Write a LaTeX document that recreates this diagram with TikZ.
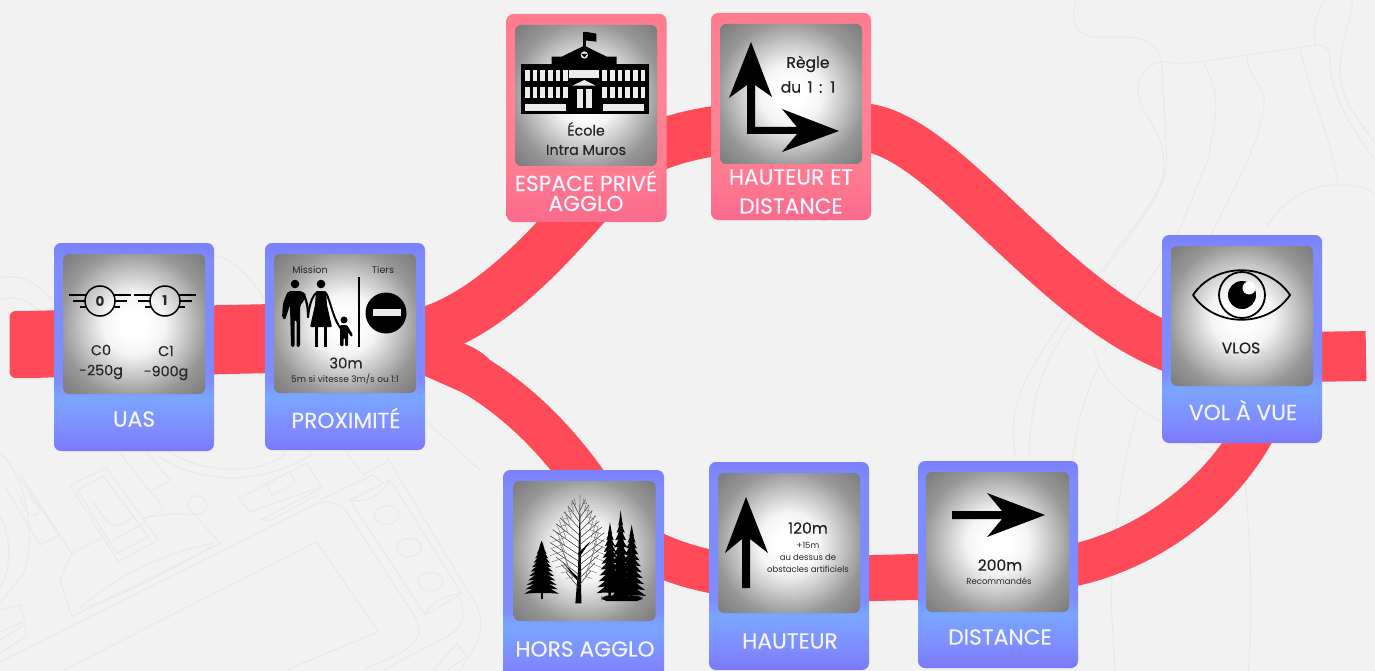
\documentclass[tikz,border=0pt]{standalone}
\usepackage{fontspec}
\setmainfont{Poppins}
\newfontfamily\medf{Poppins}[FakeBold=0.3]
\definecolor{bgc}{HTML}{F2F2F2}
\definecolor{sketch}{HTML}{E9E9E9}
\definecolor{ribbon}{HTML}{FF4B59}
\definecolor{bA}{HTML}{7B78FA}
\definecolor{bB}{HTML}{7AA6FF}
\definecolor{bC}{HTML}{7F8CFF}
\definecolor{bD}{HTML}{7A80FA}
\definecolor{pA}{HTML}{FA6A8C}
\definecolor{pB}{HTML}{FF7C90}
\definecolor{pC}{HTML}{FF8496}
\definecolor{pD}{HTML}{FF7C8E}
\definecolor{gA}{HTML}{F4F4F4}
\definecolor{gB}{HTML}{BDBDBD}
\definecolor{gC}{HTML}{979797}
\definecolor{gD}{HTML}{7A7A7A}
\pgfdeclareverticalshading{cardblue}{100bp}{color(0bp)=(bA); color(25bp)=(bA); color(30bp)=(bC); color(38bp)=(bB); color(42bp)=(bC); color(70bp)=(bC); color(75bp)=(bD); color(100bp)=(bD)}
\pgfdeclareverticalshading{cardpink}{100bp}{color(0bp)=(pA); color(25bp)=(pA); color(37bp)=(pB); color(55bp)=(pC); color(75bp)=(pD); color(100bp)=(pD)}
\pgfdeclareradialshading{photo}{\pgfpointorigin}{color(0bp)=(white); color(5bp)=(white); color(11bp)=(gA); color(20bp)=(gB); color(26bp)=(gC); color(35.5bp)=(gD); color(50bp)=(gD)}
\pgfdeclarelayer{backdrop}
\pgfsetlayers{backdrop,main}
\tikzset{
  cardbase/.style={rounded corners=7pt,minimum width=160pt,minimum height=207pt,inner sep=0pt,draw=none},
  bluecard/.style={cardbase,shading=cardblue},
  pinkcard/.style={cardbase,shading=cardpink},
  photobox/.style={rounded corners=6pt,minimum width=142pt,minimum height=140pt,inner sep=0pt,shading=photo},
  ribbonline/.style={draw=ribbon,line cap=butt},
  bgline/.style={draw=sketch,line width=1pt,line join=round},
  cardlabel/.style={text=white!96!blue,font=\medf\fontsize{21.8}{24}\selectfont,inner sep=0pt},
  mid/.style={text=black!85,font=\medf\fontsize{14.3}{16}\selectfont,inner sep=0pt},
  heavy/.style={text=black!88,font=\medf\fontsize{15.5}{17}\selectfont,inner sep=0pt},
  small/.style={text=black!85,font=\fontsize{8.5}{10}\selectfont,inner sep=0pt},
  tiny/.style={text=black!85,font=\fontsize{9}{10}\selectfont,inner sep=0pt},
  wht/.style={fill=white!92!black,draw=none},
}
\newcommand{\wingbadge}[4]{%
  \begin{scope}[shift={(#1,#2)}]
    \draw[black,line width=1.7pt] (-31,-6)--(-14,-6) (-27,0)--(-15,0) (-20,6)--(-13,6)
      (31,-6)--(14,-6) (27,0)--(15,0) (20,6)--(13,6);
    \node[draw=black,line width=1.5pt,circle,minimum size=30pt,inner sep=0pt,text=black!85,font=\bfseries\fontsize{13.5}{14}\selectfont] (#3) at (0,0) {#4};
  \end{scope}}
\newcommand{\conifer}[4]{% x, top, base, halfwidth (zoom units)
  \foreach \i in {0,...,10}{
    \pgfmathsetmacro{\ya}{#2+(#3-#2)*(\i-1)/10}
    \pgfmathsetmacro{\yb}{#2+(#3-#2)*(\i+1)/10}
    \pgfmathsetmacro{\hw}{#4*pow((\i+1)/11,0.75)}
    \fill[black] (#1,\ya) -- (#1+.55*\hw,\yb-14) -- (#1+\hw,\yb) -- (#1+0.5*\hw,\yb-2) -- (#1-0.5*\hw,\yb-2) -- (#1-\hw,\yb) -- (#1-.55*\hw,\yb-14) -- cycle;
  }}
\begin{document}
\begin{tikzpicture}[x=1pt,y=-1pt]
\useasboundingbox (0,0) rectangle (1375,671);
% cards
\node[bluecard,minimum height=208pt] (uas) at (134,347) {};
\node[bluecard] (prox) at (345,346.5) {};
\node[pinkcard,minimum height=208pt] (espace) at (586.5,118) {};
\node[pinkcard] (hetd) at (791,116.5) {};
\node[bluecard,minimum height=210pt,minimum width=161pt] (hors) at (583.5,575) {};
\node[bluecard,minimum height=208pt] (haut) at (789,566) {};
\node[bluecard] (dist) at (998,564.5) {};
\node[bluecard,minimum height=208pt] (vol) at (1242,339) {};
% ribbon anchors
\coordinate (rstart) at (30,344.5);
\coordinate (uasMid) at (134,341.5);
\coordinate (proxMid) at (345,337);
\coordinate (proxTop) at (345,342);
\coordinate (proxLow) at (345,335);
\coordinate (rend) at (1366,356);
\coordinate (volMid) at (1242,358);
\coordinate (espaceIn) at (610,178);
\coordinate (espaceOut) at (600,175);
\coordinate (horsIn) at (625,545);
\coordinate (horsOut) at (620,532);
\coordinate (volIn) at (1190,355);
\coordinate (volDown) at (1265,410);
\coordinate (distOut) at (1040,570);
\coordinate (hetdOut) at (860,127);
\coordinate (hetdIn) at (745,128);
\coordinate (hautMid) at (790,580);
\coordinate (distMid) at (1000,575);
\begin{pgfonlayer}{backdrop}
\fill[bgc] (0,0) rectangle (1375,671);
% faint background sketch, lower left
\begin{scope}[shift={(0,440)},scale=.33333]
  \draw[bgline] (190,690)--(950,305)--(1135,575)--(860,690);
  \draw[bgline] (0,665)--(940,195) .. controls (990,175) and (1020,190) .. (1040,215)--(1245,530) .. controls (1270,580) and (1260,600) .. (1200,640)--(1090,690);
  \draw[bgline] (1050,180)--(1170,120)--(1385,460)--(1275,525)--cycle;
  \draw[bgline] (1050,180) .. controls (1100,190) and (1150,160) .. (1170,120);
  \draw[bgline] (1385,460) .. controls (1320,470) and (1290,490) .. (1275,525);
  \draw[bgline] (1160,225) ellipse (37 and 28) (1227,322) ellipse (37 and 28) (1292,425) ellipse (37 and 28);
  \draw[bgline] (1160,50)--(1420,480) .. controls (1460,550) and (1450,590) .. (1380,690);
  \draw[bgline] (1380,470) .. controls (1400,540) and (1390,560) .. (1340,590)--(1150,690);
  \draw[bgline] (715,175)--(920,70)--(965,140)--(750,215)--cycle;
  \draw[bgline] (800,130)--(870,95)--(885,130)--(815,165)--cycle;
  \draw[bgline] (780,240)--(965,145) (780,240)--(815,240)--(960,160);
  \draw[bgline] (958,180)--(1120,105)--(1150,130);
  \draw[bgline] (210,135)--(320,85)--(475,300)--(355,365)--cycle;
  \draw[bgline] (232,150)--(310,108)--(445,290)--(350,340)--cycle;
  \draw[bgline] (340,300)--(440,245);
  \draw[bgline] (280,185) .. controls (330,270) and (350,270) .. (400,230);
  \draw[bgline] (180,420)--(215,530)--(660,310)--(585,225) .. controls (520,220) and (470,225) .. (430,235);
  \draw[bgline] (592,195) circle (28);
  \draw[bgline] (180,420)--(215,340)--(305,295);
  \draw[bgline] (240,505) .. controls (330,420) and (480,340) .. (640,310);
  \draw[bgline] (260,500) .. controls (360,470) and (520,390) .. (640,315);
  \draw[bgline] (15,140)--(120,315)--(178,285)--(60,115);
  \draw[bgline] (60,170) .. controls (80,240) and (120,240) .. (115,200) -- (85,165);
  \draw[bgline] (60,100)--(215,340);
  \draw[bgline] (480,50) .. controls (560,110) and (750,160) .. (940,40);
  \draw[bgline] (500,30) .. controls (600,100) and (770,110) .. (860,40);
  \draw[bgline] (360,40)--(450,155)--(510,120)--(420,10);
  \draw[bgline] (450,155)--(490,200) .. controls (480,220) and (450,230) .. (430,235);
  \draw[bgline] (0,40) .. controls (80,100) and (110,300) .. (70,400) -- (0,490);
  \draw[bgline] (0,230) .. controls (40,300) and (30,400) .. (0,440);
  \draw[bgline] (0,510)--(60,495)--(75,545)--(0,575) (0,600)--(75,555)--(78,590)--(0,640);
  \draw[bgline] (1040,40)--(1090,105)--(1160,65);
  \draw[bgline] (1300,690)--(1370,610)--(1400,650)--(1340,690);
\end{scope}
\draw[bgline] (0,278) .. controls (20,272) and (40,285) .. (52,300);
\draw[bgline] (0,300) .. controls (15,295) and (30,300) .. (40,312);
\draw[bgline] (215,255) .. controls (240,262) and (255,285) .. (265,300);
\draw[bgline] (425,420) -- (480,470);
% faint background sketch, upper right
\begin{scope}[shift={(1000,0)},scale=.33333]
  \draw[bgline] (230,0) .. controls (205,60) and (230,110) .. (290,112)--(395,112) .. controls (450,115) and (480,150) .. (485,185);
  \draw[bgline] (485,185) .. controls (530,192) and (570,190) .. (620,183)--(945,135) .. controls (975,132) and (990,150) .. (990,170);
  \draw[bgline] (485,185)--(500,480) .. controls (500,560) and (440,640) .. (310,816);
  \draw[bgline] (485,185) .. controls (430,195) and (410,240) .. (415,285) .. controls (425,350) and (490,380) .. (492,500) .. controls (492,570) and (430,640) .. (300,816);
  \draw[bgline] (615,185) .. controls (620,230) and (645,240) .. (647,300) .. controls (650,370) and (630,420) .. (628,470) -- (530,710);
  \draw[bgline] (740,165) .. controls (745,240) and (795,260) .. (793,310) .. controls (780,430) and (710,550) .. (630,710);
  \draw[bgline] (900,145) .. controls (920,250) and (990,400) .. (1015,555);
  \draw[bgline] (800,680) .. controls (850,600) and (920,555) .. (1015,555) .. controls (1060,553) and (1100,565) .. (1125,580);
  \draw[bgline] (975,0) .. controls (950,30) and (940,90) .. (945,135);
  \draw[bgline] (1058,0) .. controls (1050,80) and (1010,160) .. (1022,240) .. controls (1030,310) and (1090,380) .. (1125,430);
  \draw[bgline] (990,170) .. controls (985,270) and (1050,380) .. (1125,480);
\end{scope}
% faint background sketch, right side
\begin{scope}[shift={(1060,440)},scale=.33333]
  \draw[bgline] (45,0) .. controls (30,60) and (40,120) .. (45,180);
  \draw[bgline] (210,0) .. controls (170,170) and (150,420) .. (155,520) -- (165,693);
  \draw[bgline] (555,120) .. controls (570,300) and (580,480) .. (565,693);
  \draw[bgline] (390,10) -- (470,40);
\end{scope}
\draw[bgline] (1016,457) .. controls (1005,400) and (1030,370) .. (1068,312);
\draw[bgline] (1029,457) .. controls (1030,390) and (1050,350) .. (1075,318);
\draw[bgline] (1094,347) .. controls (1098,380) and (1130,405) .. (1166,425);
\draw[bgline] (1100,363) .. controls (1085,395) and (1074,430) .. (1075,457);
\draw[bgline] (1137,410) -- (1130,440);
\draw[bgline] (1133,303) -- (1163,260);
% ribbons
\draw[ribbonline,line width=67pt] (rstart) -- (uasMid);
\fill[ribbon,rounded corners=6pt] (9.5,311) rectangle (45,378);
\draw[ribbonline,line width=69pt] (uasMid) -- (proxMid);
\draw[ribbonline,line width=50pt] (proxTop) .. controls (460,350) and (525,275) .. (espaceIn);
\draw[ribbonline,line width=50pt] (espaceOut) .. controls (640,150) and (680,132) .. (hetdIn);
\draw[ribbonline,line width=48pt] (hetdOut) .. controls (945,130) and (1055,315) .. (volIn);
\draw[ribbonline,line width=50pt] (volMid) -- (rend);
\draw[ribbonline,line width=42pt] (proxLow) .. controls (440,340) and (545,395) .. (horsIn);
\draw[ribbonline,line width=43pt] (horsOut) .. controls (655,560) and (710,578) .. (hautMid);
\draw[ribbonline,line width=46pt] (hautMid) -- (distMid);
\draw[ribbonline,line width=42pt] (distOut) .. controls (1120,565) and (1220,510) .. (volDown);
\fill[ribbon] (410,306) -- (424,306) .. controls (440,306) and (455,302) .. (470,290) -- (480,320) -- (462,343) .. controls (472,346) and (482,352) .. (490,360) -- (470,396) -- (425,376) -- (410,376) -- cycle;
\end{pgfonlayer}
% pictures
\node[photobox] (uasP) at (134,324) {};
\node[photobox,minimum height=139pt] (proxP) at (345,323.5) {};
\node[photobox,minimum height=141pt] (espaceP) at (586,95.5) {};
\node[photobox] (hetdP) at (791,94) {};
\node[photobox] (horsP) at (584.5,551) {};
\node[photobox] (hautP) at (789,543) {};
\node[photobox,minimum width=143pt] (distP) at (997.5,542) {};
\node[photobox] (volP) at (1242,316) {};
% card labels
\node[cardlabel] (l1) at (134,419) {UAS};
\node[cardlabel] (l2) at (346,418) {PROXIMITÉ};
\node[cardlabel] (l3) at (586,181) {ESPACE PRIVÉ};
\node[cardlabel] (l3b) at (586,203.5) {AGGLO};
\node[cardlabel] (l4) at (791,177) {HAUTEUR ET};
\node[cardlabel] (l4b) at (791,206) {DISTANCE};
\node[cardlabel] (l5) at (585,649) {HORS AGGLO};
\node[cardlabel] (l6) at (790,641) {HAUTEUR};
\node[cardlabel] (l7) at (1000,637) {DISTANCE};
\node[cardlabel] (l8) at (1243,410) {VOL À VUE};
% UAS content
\wingbadge{100}{301}{b0}{0}
\wingbadge{165}{301}{b1}{1}
\node[mid] (t1) at (101,350) {C0};
\node[mid] (t2) at (101,372) {-250g};
\node[mid] (t3) at (166,351) {C1};
\node[mid] (t4) at (166,373) {-900g};
% PROXIMITE content
\node[text=black!85,font=\fontsize{9.6}{11}\selectfont,inner sep=0pt] (t5) at (310,270) {Mission};
\node[text=black!85,font=\fontsize{9.6}{11}\selectfont,inner sep=0pt] (t6) at (383,270) {Tiers};
\fill[black] (295,284) circle (4.3) (321,284) circle (4.3) (344,320) circle (3.5);
% man
\fill[black,rounded corners=2pt] (288,291) -- (302,291) -- (307,296) -- (300,306) -- (300,347) -- (296.5,347) -- (296.5,320) -- (294.5,320) -- (294.5,347) -- (291,347) -- (290,305) -- (285,320) -- (282,318) -- (283,303) -- cycle;
\draw[black,line width=2.2pt,line cap=round] (303,294) .. controls (307,300) and (308,308) .. (308,317);
% woman
\fill[black,rounded corners=1pt] (316,291) -- (326,291) -- (327,305) -- (332,327) -- (310,327) -- (315,305) -- cycle;
\draw[black,line width=2.8pt] (316.5,327) -- (316.5,347) (325.5,327) -- (325.5,347);
\draw[black,line width=2pt,line cap=round] (316,293) .. controls (311,298) and (309,308) .. (308,317);
\draw[black,line width=2pt,line cap=round] (326,293) .. controls (331,302) and (333,320) .. (342,330);
% child
\fill[black,rounded corners=1pt] (340,325) -- (347,325) -- (353,335) -- (351,337) -- (348,332) -- (348,346) -- (345,346) -- (345,338) -- (343.5,338) -- (343.5,346) -- (340,346) -- cycle;
\draw[black,line width=1.8pt] (359,277) -- (359,347);
\fill[black] (386,313) circle (20.5);
\fill[wht] (373,309) rectangle (401,316);
\node[text=black!85,font=\medf\fontsize{14.8}{16}\selectfont,inner sep=0pt] (t7) at (346,363) {30m};
\node[tiny] (t8) at (345,379) {5m si vitesse 3m/s ou 1:1};
% school
\begin{scope}[shift={(495,5)},scale=.33333]
  \fill[black] (264,80) rectangle (272,130);
  \fill[black] (270,80) -- (304,86) -- (304,110) -- (270,106) -- cycle;
  \fill[black] (170,180) -- (170,155) -- (200,155) -- (268,122) -- (335,155) -- (365,155) -- (365,180) -- cycle;
  \fill[black] (78,178) rectangle (462,326);
  \fill[wht] (268,150) circle (11);
  \fill[black] (268,147) -- (277,147) -- (268,157) -- (259,147) -- cycle;
  \foreach \x in {90,113,136,159,182,205,322,345,368,391,414,437}{
    \fill[wht] (\x,196) rectangle ++(14,32);
    \fill[wht] (\x,245) rectangle ++(14,33);
  }
  \fill[wht] (222,196) rectangle (312,218);
  \fill[wht] (90,298) rectangle (212,318);
  \fill[wht] (325,298) rectangle (447,318);
  \fill[wht] (232,242) -- (268,225) -- (302,242) -- cycle;
  \fill[wht] (245,251) rectangle (263,310);
  \fill[wht] (273,251) rectangle (292,310);
\end{scope}
\node[mid] (t9) at (586,129) {École};
\node[mid] (t10) at (586,150) {Intra Muros};
% rule 1:1
\fill[black] (751,42) -- (772,97) -- (755,85) -- (755,127) -- (797,127) -- (782,109) -- (839,131) -- (782,152) -- (797,134) -- (747,134) -- (747,85) -- (729,98) -- cycle;
\node[heavy] (t11) at (808,64) {Règle};
\node[heavy] (t12) at (808,87) {\spaceskip=.42em du 1 : 1};
% trees
\begin{scope}[shift={(500,470)},scale=.33333]
  \fill[black] (122,350) rectangle (130,388);
  \conifer{125}{225}{358}{52}
  \fill[black] (234,300) -- (240,75) -- (243,300) -- (244,400) -- (226,400) -- cycle;
  \foreach \y/\l in {95/22,115/34,135/46,155/58,175/70,195/80,215/88,235/88,255/82,275/70,295/55,315/40}{
    \draw[black!75,line width=.55pt] (238,\y+40) -- (238-\l,\y-.2*\l);
    \draw[black!75,line width=.55pt] (238,\y+30) -- (238+\l*.85,\y-.3*\l);
    \draw[black!60,line width=.4pt] (238-.5*\l,\y+10) -- (238-.75*\l,\y-.55*\l);
    \draw[black!60,line width=.4pt] (238-.55*\l,\y+8) -- (238-\l,\y+.25*\l);
    \draw[black!60,line width=.4pt] (238+.45*\l,\y+8) -- (238+.65*\l,\y-.55*\l);
    \draw[black!60,line width=.4pt] (238+.5*\l,\y+5) -- (238+\l*.95,\y+.25*\l);
  }
  \fill[black] (235,250) -- (272,212) -- (238,262) -- cycle;
  \fill[black] (232,320) -- (190,280) -- (232,332) -- cycle;
  \conifer{330}{175}{352}{40}
  \conifer{395}{182}{360}{43}
  \conifer{362}{143}{368}{44}
  \fill[black] (325,350) rectangle (333,382) (358,350) rectangle (366,382) (390,350) rectangle (398,382);
  \fill[black,rounded corners=5pt] (305,377) rectangle (427,393);
\end{scope}
% height
\fill[black] (746,497) -- (768,553) -- (750,539) -- (750,588) -- (742,588) -- (742,539) -- (725,553) -- cycle;
\node[heavy] (t13) at (808,528) {120m};
\node[small] (t14) at (808,545) {+15m};
\node[small] (t15) at (808,557) {au dessus de};
\node[small] (t16) at (808,569) {obstacles artificiels};
% distance
\fill[black] (952,511) -- (1002,511) -- (987,493) -- (1045,515) -- (987,537) -- (1002,519) -- (952,519) -- cycle;
\node[heavy] (t17) at (1000,565) {200m};
\node[small] (t18) at (999,581) {Recommandés};
% eye
\draw[black,line width=1.8pt,line join=round] (1193,295) .. controls (1215,262) and (1268,262) .. (1290,295) .. controls (1268,328) and (1215,328) .. (1193,295) -- cycle;
\draw[black,line width=1.8pt] (1242,295) circle (23);
\fill[black] (1242,295) circle (14);
\fill[white] (1249,288) circle (6.5);
\node[heavy] (t19) at (1241,348) {VLOS};
\end{tikzpicture}
\end{document}
